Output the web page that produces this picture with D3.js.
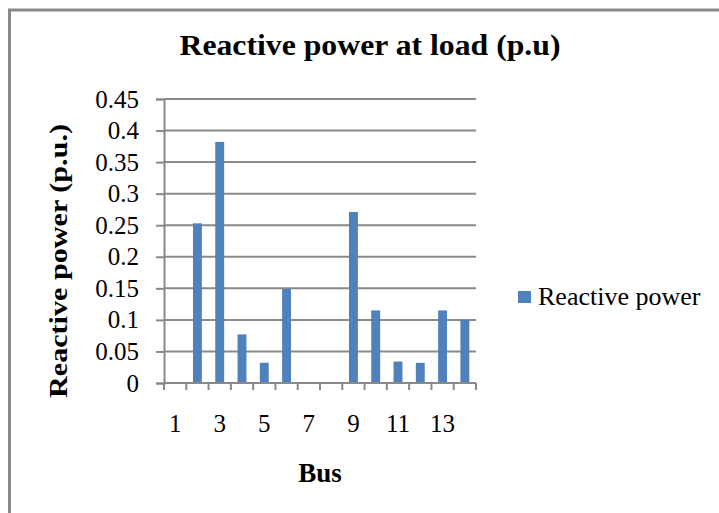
<!DOCTYPE html>
<html>
<head>
<meta charset="utf-8">
<script src="https://cdn.jsdelivr.net/npm/d3@7"></script>
<style>
  html, body { margin: 0; padding: 0; background: #fff; }
  svg { display: block; }
  text { font-family: "Liberation Serif", "Times New Roman", serif; fill: #000; }
</style>
</head>
<body>
<svg id="chart" width="719" height="513"></svg>
<script>
const buses = [1, 2, 3, 4, 5, 6, 7, 8, 9, 10, 11, 12, 13, 14];
const reactivePower = [0, 0.253, 0.382, 0.077, 0.032, 0.149, 0, 0, 0.271, 0.115, 0.034, 0.032, 0.115, 0.100];
const yTicks = [0, 0.05, 0.1, 0.15, 0.2, 0.25, 0.3, 0.35, 0.4, 0.45];
const xLabelBuses = [1, 3, 5, 7, 9, 11, 13];
const chartTitle = "Reactive power at load (p.u)";
const xTitle = "Bus";
const yTitle = "Reactive power (p.u.)";
const seriesName = "Reactive power";

const svg = d3.select("#chart");
const grey = "#898989";
const barColor = "#4F81BD";

const plot = { left: 164, right: 476, top: 99, bottom: 383 };

// outer chart border (right/bottom edges fall outside the picture)
svg.append("rect")
  .attr("x", 9.5).attr("y", 10)
  .attr("width", 800).attr("height", 700)
  .attr("fill", "#fff").attr("stroke", grey).attr("stroke-width", 3);

const x = d3.scaleBand().domain(buses).range([plot.left, plot.right])
  .paddingInner(0.6).paddingOuter(0.3);
const y = d3.scaleLinear().domain([0, 0.45]).range([plot.bottom, plot.top]);

// gridlines
svg.append("g").selectAll("line").data(yTicks.slice(1)).join("line")
  .attr("x1", plot.left).attr("x2", plot.right)
  .attr("y1", d => y(d)).attr("y2", d => y(d))
  .attr("stroke", grey).attr("stroke-width", 2);

// bars
svg.append("g").selectAll("rect").data(buses).join("rect")
  .attr("x", d => x(d))
  .attr("width", x.bandwidth())
  .attr("y", (d, i) => y(reactivePower[i]))
  .attr("height", (d, i) => y(0) - y(reactivePower[i]))
  .attr("fill", barColor);

// y axis
const yAxis = d3.axisLeft(y).tickValues(yTicks).tickSize(8).tickPadding(17)
  .tickFormat(d => String(+d.toFixed(2)));
const gy = svg.append("g").attr("transform", `translate(${plot.left},0)`).call(yAxis);
gy.select(".domain").attr("stroke", grey).attr("stroke-width", 2);
gy.selectAll(".tick line").attr("stroke", grey).attr("stroke-width", 2);
gy.selectAll(".tick text").style("font-family", "Liberation Serif").style("font-size", "25px").attr("fill", "#000");

// x axis: ticks at category boundaries
const step = x.step();
const boundaries = d3.range(buses.length + 1).map(i => plot.left + i * step);
const gx = svg.append("g");
gx.append("line").attr("x1", plot.left).attr("x2", plot.right)
  .attr("y1", plot.bottom).attr("y2", plot.bottom)
  .attr("stroke", grey).attr("stroke-width", 2);
gx.selectAll("line.tk").data(boundaries).join("line").attr("class", "tk")
  .attr("x1", d => d).attr("x2", d => d)
  .attr("y1", plot.bottom).attr("y2", plot.bottom + 7)
  .attr("stroke", grey).attr("stroke-width", 2);
gx.selectAll("text").data(xLabelBuses).join("text")
  .attr("x", d => x(d) + x.bandwidth() / 2)
  .attr("y", 432)
  .attr("text-anchor", "middle")
  .style("font-size", "25px")
  .text(d => d);

// titles
svg.append("text").attr("x", 370).attr("y", 55).attr("text-anchor", "middle")
  .attr("textLength", 381).attr("lengthAdjust", "spacingAndGlyphs")
  .style("font-size", "30px").style("font-weight", "bold").text(chartTitle);
svg.append("text").attr("x", 320).attr("y", 482).attr("text-anchor", "middle")
  .style("font-size", "27px").style("font-weight", "bold").text(xTitle);
svg.append("text").attr("transform", "translate(67,261) rotate(-90)").attr("text-anchor", "middle")
  .attr("textLength", 274).attr("lengthAdjust", "spacingAndGlyphs")
  .style("font-size", "26px").style("font-weight", "bold").text(yTitle);

// legend
const lg = svg.append("g");
lg.append("rect").attr("x", 518).attr("y", 291).attr("width", 13).attr("height", 12).attr("fill", barColor);
lg.append("text").attr("x", 538).attr("y", 305).style("font-size", "26px").text(seriesName);
</script>
</body>
</html>
